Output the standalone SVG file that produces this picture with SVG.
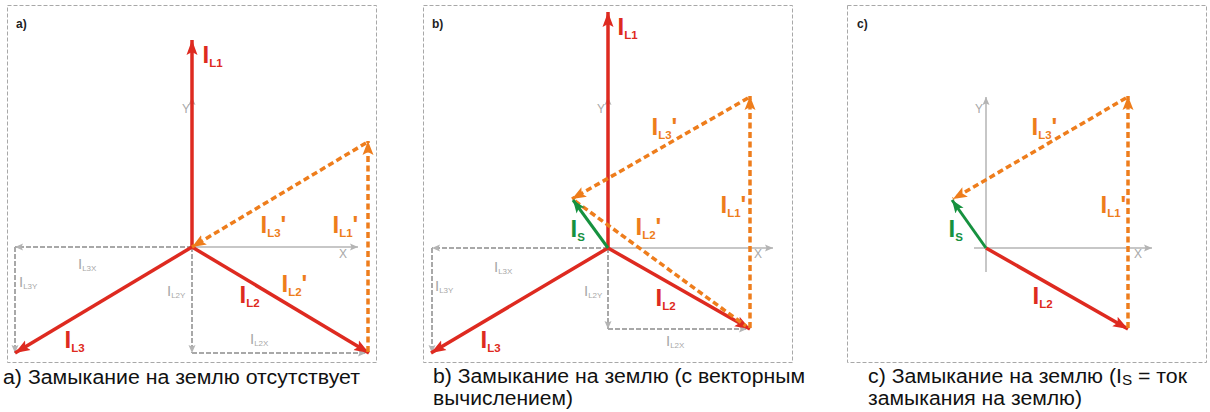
<svg xmlns="http://www.w3.org/2000/svg" width="1210" height="412" viewBox="0 0 1210 412">
<defs>
<style>
.box{fill:none;stroke:#a8a8a8;stroke-width:1;stroke-dasharray:4 2}
.axis{fill:none;stroke:#b4b4b4;stroke-width:1.5}
.proj{fill:none;stroke:#a8a8a8;stroke-width:2;stroke-dasharray:5 2}
.red{fill:none;stroke:#de2a20;stroke-width:3.5}
.org{fill:none;stroke:#ee7d1c;stroke-width:3.5;stroke-dasharray:6 3.5}
.grn{fill:none;stroke:#16913f;stroke-width:3}
text{font-family:"Liberation Sans",Arial,sans-serif}
.pl{font-size:12px;font-weight:bold;fill:#222}
.big{font-size:24px;font-weight:bold}
.sb{font-size:11.5px}
.cR{fill:#de2a20}.cO{fill:#ee7d1c}.cG{fill:#16913f}
.gl{font-size:15px;fill:#a8a8a8}
.gs{font-size:8px}
.ax{font-size:12px;fill:#a8a8a8}
.cap{font-size:19.5px;fill:#111}
</style>
<marker id="mR" markerUnits="userSpaceOnUse" markerWidth="16" markerHeight="12" refX="15" refY="6" orient="auto"><path d="M0,0.5 L15,6 L0,11.5 L3,6 z" fill="#de2a20"/></marker>
<marker id="mO" markerUnits="userSpaceOnUse" markerWidth="16" markerHeight="12" refX="14" refY="6" orient="auto"><path d="M0,0.5 L14,6 L0,11.5 L3,6 z" fill="#ee7d1c"/></marker>
<marker id="mG" markerUnits="userSpaceOnUse" markerWidth="16" markerHeight="12" refX="13" refY="5.5" orient="auto"><path d="M0,0.5 L13,5.5 L0,10.5 L3,5.5 z" fill="#16913f"/></marker>
<marker id="mA" markerUnits="userSpaceOnUse" markerWidth="9" markerHeight="8" refX="8" refY="4" orient="auto"><path d="M0,0.5 L8,4 L0,7.5 L1.5,4 z" fill="#b4b4b4"/></marker>
</defs>

<!-- Panel a -->
<g id="panel-a">
<rect class="box" x="7.5" y="5.5" width="369" height="357"/>
<text class="pl" x="16" y="28">a)</text>
</g>
<g id="connectors-a">
<line class="axis" x1="192" y1="247" x2="192" y2="97" marker-end="url(#mA)"/>
<line class="axis" x1="192" y1="247" x2="358" y2="247" marker-end="url(#mA)"/>
<line class="proj" x1="192" y1="247" x2="15" y2="247" marker-end="url(#mA)"/>
<line class="proj" x1="15" y1="247" x2="15" y2="353" marker-end="url(#mA)"/>
<line class="proj" x1="192" y1="247" x2="192" y2="353" marker-end="url(#mA)"/>
<line class="proj" x1="192" y1="353" x2="366" y2="353" marker-end="url(#mA)"/>
<line class="red" x1="192" y1="247" x2="192" y2="40" marker-end="url(#mR)"/>
<line class="red" x1="192" y1="247" x2="15" y2="353" marker-end="url(#mR)"/>
<line class="red" x1="192" y1="247" x2="369" y2="353" marker-end="url(#mR)"/>
<line class="org" x1="368" y1="352" x2="368" y2="141" marker-end="url(#mO)"/>
<line class="org" x1="366" y1="143" x2="192" y2="247" marker-end="url(#mO)"/>
</g>
<g id="labels-a">
<text class="ax" x="182" y="113">Y</text>
<text class="ax" x="339" y="258">X</text>
<text class="big cR" x="202.5" y="63">I<tspan class="sb" dy="4">L1</tspan></text>
<text class="big cO" x="260.5" y="233">I<tspan class="sb" dy="4">L3</tspan><tspan dy="-4">'</tspan></text>
<text class="big cO" x="332.5" y="233">I<tspan class="sb" dy="4">L1</tspan><tspan dy="-4">'</tspan></text>
<text class="big cO" x="281.5" y="292">I<tspan class="sb" dy="4">L2</tspan><tspan dy="-4">'</tspan></text>
<text class="big cR" x="239.5" y="303">I<tspan class="sb" dy="4">L2</tspan></text>
<text class="big cR" x="64.5" y="348">I<tspan class="sb" dy="4">L3</tspan></text>
<text class="gl" x="78" y="269">I<tspan class="gs" dy="2">L3X</tspan></text>
<text class="gl" x="19" y="287">I<tspan class="gs" dy="2">L3Y</tspan></text>
<text class="gl" x="167" y="296">I<tspan class="gs" dy="2">L2Y</tspan></text>
<text class="gl" x="250" y="344">I<tspan class="gs" dy="2">L2X</tspan></text>
<text class="cap" x="3" y="384" textLength="357" lengthAdjust="spacingAndGlyphs">a) Замыкание на землю отсутствует</text>
</g>

<!-- Panel b -->
<g id="panel-b">
<rect class="box" x="423.5" y="5.5" width="369" height="357"/>
<text class="pl" x="432" y="28">b)</text>
</g>
<g id="connectors-b">
<line class="axis" x1="608" y1="248" x2="608" y2="97" marker-end="url(#mA)"/>
<line class="axis" x1="608" y1="248" x2="773" y2="248" marker-end="url(#mA)"/>
<line class="proj" x1="608" y1="248" x2="432" y2="248" marker-end="url(#mA)"/>
<line class="proj" x1="432" y1="248" x2="432" y2="353" marker-end="url(#mA)"/>
<line class="proj" x1="608" y1="248" x2="608" y2="329" marker-end="url(#mA)"/>
<line class="proj" x1="608" y1="329" x2="747" y2="329" marker-end="url(#mA)"/>
<line class="red" x1="608" y1="248" x2="608" y2="12" marker-end="url(#mR)"/>
<line class="red" x1="608" y1="248" x2="431" y2="353" marker-end="url(#mR)"/>
<line class="red" x1="608" y1="248" x2="750" y2="329" marker-end="url(#mR)"/>
<line class="org" x1="750" y1="328" x2="750" y2="96" marker-end="url(#mO)"/>
<line class="org" x1="748" y1="98" x2="572" y2="199" marker-end="url(#mO)"/>
<line class="org" x1="575" y1="201" x2="746" y2="326"/>
<line class="grn" x1="608" y1="248" x2="573" y2="200" marker-end="url(#mG)"/>
</g>
<g id="labels-b">
<text class="ax" x="597" y="113">Y</text>
<text class="ax" x="754" y="258">X</text>
<text class="big cR" x="617.5" y="35">I<tspan class="sb" dy="4">L1</tspan></text>
<text class="big cO" x="651.5" y="135">I<tspan class="sb" dy="4">L3</tspan><tspan dy="-4">'</tspan></text>
<text class="big cO" x="720.5" y="213">I<tspan class="sb" dy="4">L1</tspan><tspan dy="-4">'</tspan></text>
<text class="big cO" x="635.5" y="235">I<tspan class="sb" dy="4">L2</tspan><tspan dy="-4">'</tspan></text>
<text class="big cG" x="570.5" y="237">I<tspan class="sb" dy="4">S</tspan></text>
<text class="big cR" x="655.5" y="306">I<tspan class="sb" dy="4">L2</tspan></text>
<text class="big cR" x="480.5" y="348">I<tspan class="sb" dy="4">L3</tspan></text>
<text class="gl" x="494" y="272">I<tspan class="gs" dy="2">L3X</tspan></text>
<text class="gl" x="435" y="291">I<tspan class="gs" dy="2">L3Y</tspan></text>
<text class="gl" x="584" y="296">I<tspan class="gs" dy="2">L2Y</tspan></text>
<text class="gl" x="666" y="346">I<tspan class="gs" dy="2">L2X</tspan></text>
<text class="cap" x="433" y="383" textLength="372" lengthAdjust="spacingAndGlyphs">b) Замыкание на землю (с векторным</text>
<text class="cap" x="433" y="405" textLength="140" lengthAdjust="spacingAndGlyphs">вычислением)</text>
</g>

<!-- Panel c -->
<g id="panel-c">
<rect class="box" x="847.5" y="5.5" width="359" height="357"/>
<text class="pl" x="857" y="28">c)</text>
</g>
<g id="connectors-c">
<line class="axis" x1="986" y1="272" x2="986" y2="97" marker-end="url(#mA)"/>
<line class="axis" x1="974" y1="248" x2="1152" y2="248" marker-end="url(#mA)"/>
<line class="red" x1="986" y1="248" x2="1128" y2="329" marker-end="url(#mR)"/>
<line class="org" x1="1128" y1="328" x2="1128" y2="96" marker-end="url(#mO)"/>
<line class="org" x1="1126" y1="98" x2="953" y2="199" marker-end="url(#mO)"/>
<line class="grn" x1="986" y1="248" x2="952" y2="200" marker-end="url(#mG)"/>
</g>
<g id="labels-c">
<text class="ax" x="975" y="113">Y</text>
<text class="ax" x="1134" y="258">X</text>
<text class="big cO" x="1031.5" y="135">I<tspan class="sb" dy="4">L3</tspan><tspan dy="-4">'</tspan></text>
<text class="big cO" x="1100.5" y="213">I<tspan class="sb" dy="4">L1</tspan><tspan dy="-4">'</tspan></text>
<text class="big cG" x="948.5" y="237">I<tspan class="sb" dy="4">S</tspan></text>
<text class="big cR" x="1032.5" y="304">I<tspan class="sb" dy="4">L2</tspan></text>
<text class="cap" x="868" y="383" textLength="319" lengthAdjust="spacingAndGlyphs">c) Замыкание на землю (I<tspan font-size="14" dy="2">S</tspan><tspan dy="-2"> = ток</tspan></text>
<text class="cap" x="868" y="405" textLength="214" lengthAdjust="spacingAndGlyphs">замыкания на землю)</text>
</g>
</svg>
